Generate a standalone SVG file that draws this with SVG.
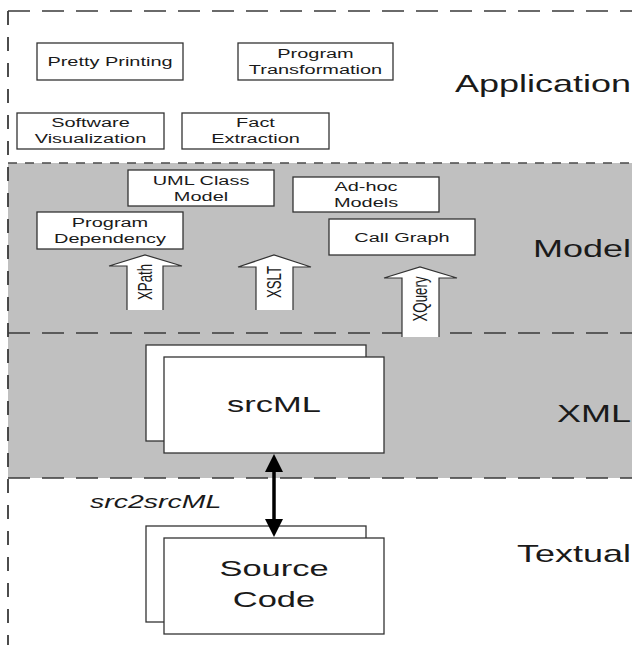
<svg xmlns="http://www.w3.org/2000/svg" width="632" height="645" viewBox="0 0 632 645">
  <style>
    .band { fill: #c0c0c0; }
    .dash-h { fill: none; stroke: #3a3a3a; stroke-width: 1.3; stroke-dasharray: 22 12; }
    .dash-fine { fill: none; stroke: #4a4a4a; stroke-width: 1.3; stroke-dasharray: 9 8; }
    .dash-v { fill: none; stroke: #3a3a3a; stroke-width: 1.8; stroke-dasharray: 14 12; }
    .box { fill: #ffffff; stroke: #333333; stroke-width: 1.3; }
    .blk { fill: #ffffff; stroke: #333333; stroke-width: 1.2; }
    text { font-family: "Liberation Sans", Arial, sans-serif; fill: #1a1a1a; }
    .lbl { font-size: 13.3px; text-anchor: middle; }
    .layer { font-size: 24px; text-anchor: end; }
    .big { font-size: 23px; text-anchor: middle; }
    .it { font-size: 19px; font-style: italic; }
    .link { stroke: #000000; stroke-width: 3.5; fill: none; }
    .head { fill: #000000; }
  </style>

  <!-- page and layer bands -->
  <rect x="0" y="0" width="632" height="645" fill="#ffffff"/>
  <rect class="band" x="8" y="163" width="624" height="170"/>
  <rect class="band" x="8" y="333" width="624" height="145"/>

  <!-- layer borders -->
  <g id="layer-borders">
    <line class="dash-h" x1="8" y1="11" x2="632" y2="11"/>
    <line class="dash-fine" x1="8" y1="163" x2="632" y2="163"/>
    <line class="dash-h" x1="8" y1="333" x2="632" y2="333"/>
    <line class="dash-h" x1="8" y1="478" x2="632" y2="478"/>
    <line class="dash-v" x1="8" y1="11" x2="8" y2="645"/>
  </g>

  <!-- layer names -->
  <g id="layer-names">
    <text class="layer" transform="matrix(1.5 0 0 1 631 0)" x="0" y="92">Application</text>
    <text class="layer" transform="matrix(1.5 0 0 1 631 0)" x="0" y="257">Model</text>
    <text class="layer" transform="matrix(1.5 0 0 1 631 0)" x="0" y="422">XML</text>
    <text class="layer" transform="matrix(1.5 0 0 1 631 0)" x="0" y="562">Textual</text>
  </g>

  <!-- application layer -->
  <g id="pretty-printing">
    <rect class="box" x="37" y="43" width="146" height="37"/>
    <text class="lbl" transform="matrix(1.5 0 0 1 110 0)" x="0" y="66">Pretty Printing</text>
  </g>
  <g id="program-transformation">
    <rect class="box" x="238" y="43" width="155" height="37"/>
    <text class="lbl" transform="matrix(1.5 0 0 1 315.5 0)" y="58"><tspan x="0">Program</tspan><tspan x="0" y="74">Transformation</tspan></text>
  </g>
  <g id="software-visualization">
    <rect class="box" x="17" y="113" width="147" height="36"/>
    <text class="lbl" transform="matrix(1.5 0 0 1 90.5 0)" y="127"><tspan x="0">Software</tspan><tspan x="0" y="143">Visualization</tspan></text>
  </g>
  <g id="fact-extraction">
    <rect class="box" x="182" y="113" width="147" height="36"/>
    <text class="lbl" transform="matrix(1.5 0 0 1 255.5 0)" y="127"><tspan x="0">Fact</tspan><tspan x="0" y="143">Extraction</tspan></text>
  </g>

  <!-- model layer -->
  <g id="uml-class-model">
    <rect class="box" x="128" y="170" width="146" height="36"/>
    <text class="lbl" transform="matrix(1.5 0 0 1 201 0)" y="185"><tspan x="0">UML Class</tspan><tspan x="0" y="201">Model</tspan></text>
  </g>
  <g id="ad-hoc-models">
    <rect class="box" x="293" y="177" width="146" height="35"/>
    <text class="lbl" transform="matrix(1.5 0 0 1 366 0)" y="191"><tspan x="0">Ad-hoc</tspan><tspan x="0" y="207">Models</tspan></text>
  </g>
  <g id="program-dependency">
    <rect class="box" x="37" y="212" width="146" height="37"/>
    <text class="lbl" transform="matrix(1.5 0 0 1 110 0)" y="227"><tspan x="0">Program</tspan><tspan x="0" y="243">Dependency</tspan></text>
  </g>
  <g id="call-graph">
    <rect class="box" x="329" y="219" width="146" height="36"/>
    <text class="lbl" transform="matrix(1.5 0 0 1 402 0)" x="0" y="242">Call Graph</text>
  </g>

  <!-- query arrows from the XML layer up into the model layer -->
  <g id="xpath">
    <path class="blk" d="M127,310 V266 H109 L145,255 L182,266 H163 V310"/>
    <text class="lbl" transform="matrix(1.5 0 0 1 145 282) rotate(-90)" x="0" y="4.7">XPath</text>
  </g>
  <g id="xslt">
    <path class="blk" d="M256,310 V267 H238 L274,255 L311,267 H293 V310"/>
    <text class="lbl" transform="matrix(1.5 0 0 1 274 282) rotate(-90)" x="0" y="4.7">XSLT</text>
  </g>
  <g id="xquery">
    <path class="blk" d="M402,337 V278 H384 L420,267 L457,278 H439 V337"/>
    <text class="lbl" transform="matrix(1.5 0 0 1 420 299) rotate(-90)" x="0" y="4.7">XQuery</text>
  </g>

  <!-- XML layer -->
  <g id="srcml">
    <rect class="box" x="146" y="345" width="220" height="96"/>
    <rect class="box" x="164" y="357" width="220" height="96"/>
    <text class="big" transform="matrix(1.5 0 0 1 274 0)" x="0" y="412">srcML</text>
  </g>

  <!-- textual layer -->
  <g id="source-code">
    <rect class="box" x="146" y="526" width="220" height="96"/>
    <rect class="box" x="164" y="538" width="220" height="96"/>
    <text class="big" transform="matrix(1.5 0 0 1 274 0)" y="576"><tspan x="0">Source</tspan><tspan x="0" y="607">Code</tspan></text>
  </g>

  <!-- translation between source code and srcML -->
  <g id="connectors">
    <line class="link" x1="274" y1="468" x2="274" y2="523"/>
    <polygon class="head" points="274,454 265,472 283,472"/>
    <polygon class="head" points="274,537 265,519 283,519"/>
    <text class="it" transform="matrix(1.5 0 0 1 90 0)" x="0" y="508">src2srcML</text>
  </g>
</svg>
